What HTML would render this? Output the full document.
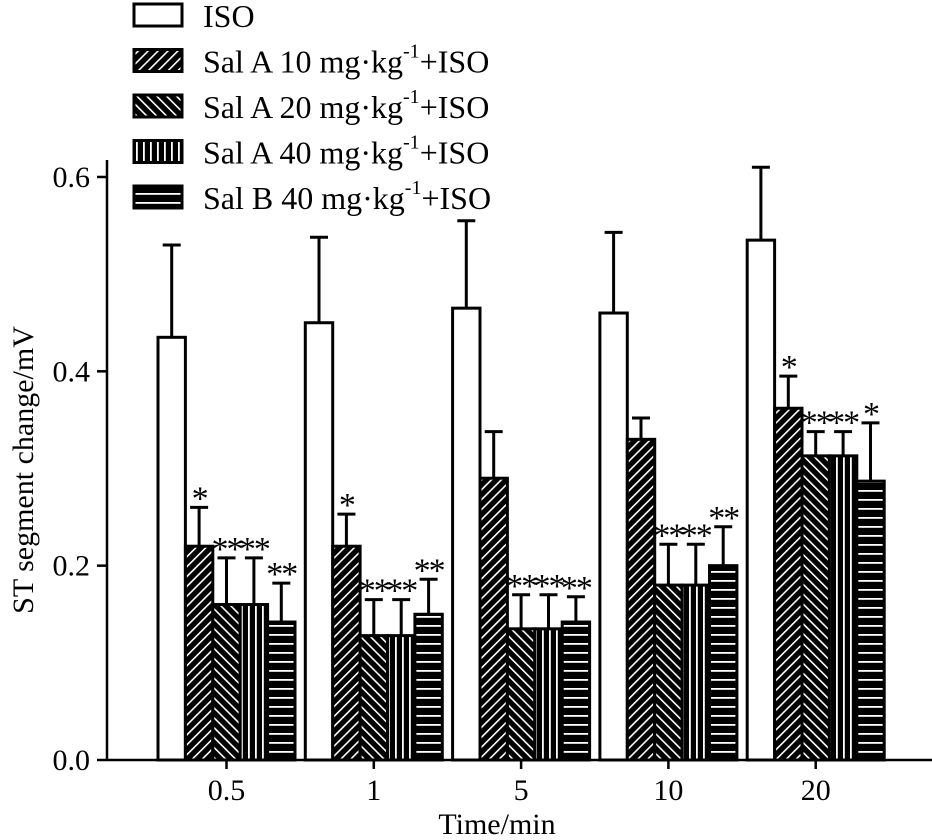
<!DOCTYPE html>
<html><head><meta charset="utf-8"><style>
body{margin:0;background:#fff}
svg text{font-family:"Liberation Serif",serif;fill:#000}
</style></head><body>
<svg id="c" width="932" height="835">
<defs>
<pattern id="p1" width="7" height="7" patternUnits="userSpaceOnUse" patternTransform="rotate(45)"><rect width="7" height="7" fill="#000"/><rect x="0" width="1.6" height="7" fill="#fff"/></pattern>
<pattern id="p2" width="7" height="7" patternUnits="userSpaceOnUse" patternTransform="rotate(-45)"><rect width="7" height="7" fill="#000"/><rect x="0" width="1.6" height="7" fill="#fff"/></pattern>
<pattern id="p3" width="7" height="7" patternUnits="userSpaceOnUse"><rect width="7" height="7" fill="#000"/><rect x="3" width="1.8" height="7" fill="#fff"/></pattern>
<pattern id="p4" width="7" height="9" patternUnits="userSpaceOnUse"><rect width="7" height="9" fill="#000"/><rect y="4" width="7" height="1.8" fill="#fff"/></pattern>
</defs>
</svg>
<script>
const categories=["0.5","1","5","10","20"];
const seriesNames=["ISO","Sal A 10 mg·kg","Sal A 20 mg·kg","Sal A 40 mg·kg","Sal B 40 mg·kg"];
const iso=[0.435,0.45,0.465,0.46,0.535];
const isoErr=[0.53,0.538,0.555,0.543,0.61];
const a10=[0.22,0.22,0.29,0.33,0.362];
const a10Err=[0.26,0.253,0.338,0.352,0.395];
const a20=[0.16,0.128,0.135,0.18,0.313];
const a20Err=[0.208,0.165,0.17,0.222,0.338];
const a40=[0.16,0.128,0.135,0.18,0.313];
const a40Err=[0.208,0.165,0.17,0.222,0.338];
const b40=[0.142,0.15,0.142,0.2,0.287];
const b40Err=[0.182,0.186,0.168,0.24,0.347];
const stars=[["","*","**","**","**"],["","*","**","**","**"],["","","**","**","**"],["","","**","**","**"],["","*","**","**","*"]];
const yTicks=[0,0.2,0.4,0.6];
const yLabels=["0.0","0.2","0.4","0.6"];
const series=[iso,a10,a20,a40,b40],errs=[isoErr,a10Err,a20Err,a40Err,b40Err];
const fills=["#fff","url(#p1)","url(#p2)","url(#p3)","url(#p4)"];
const NS="http://www.w3.org/2000/svg",svg=document.getElementById('c');
const y=v=>760-v*971.7, bw=27.4, gx=i=>158+i*147.3;
function el(t,a,p){const e=document.createElementNS(NS,t);for(const k in a)e.setAttribute(k,a[k]);(p||svg).appendChild(e);return e;}
let ax=el('line',{x1:107,y1:760,x2:932,y2:760,stroke:'#000','stroke-width':2.5});

let ay=el('line',{x1:107,y1:760,x2:107,y2:160,stroke:'#000','stroke-width':2.5});

yTicks.forEach((v,i)=>{
 el('line',{x1:97,x2:107,y1:y(v),y2:y(v),stroke:'#000','stroke-width':2.5});
 const t=el('text',{x:90,y:y(v)+10,'text-anchor':'end','font-size':30});t.textContent=yLabels[i];
 
});
categories.forEach((c,i)=>{
 const cx=gx(i)+2.5*bw;
 el('line',{x1:cx,x2:cx,y1:760,y2:769,stroke:'#000','stroke-width':2.5});
 const t=el('text',{x:cx,y:800,'text-anchor':'middle','font-size':30});t.textContent=c;
 
 series.forEach((s,j)=>{
  const x=gx(i)+j*bw, mx=x+bw/2;
  el('line',{x1:mx,x2:mx,y1:y(s[i]),y2:y(errs[j][i]),stroke:'#000','stroke-width':3});
  el('line',{x1:mx-9,x2:mx+9,y1:y(errs[j][i]),y2:y(errs[j][i]),stroke:'#000','stroke-width':3});
  const r=el('rect',{x:x,y:y(s[i]),width:bw,height:760-y(s[i]),fill:fills[j],stroke:'#000','stroke-width':3});
  
  if(stars[i][j]){const st=el('text',{x:mx,y:y(errs[j][i])+2,'text-anchor':'middle','font-size':34,'font-family':'"Liberation Serif",serif','letter-spacing':'-2'});st.textContent=stars[i][j];
   }
 });
});
let yt=el('text',{x:0,y:0,'text-anchor':'middle','font-size':30,transform:'translate(33,470) rotate(-90)'});yt.textContent='ST segment change/mV';

let xt=el('text',{x:497,y:834,'text-anchor':'middle','font-size':30});xt.textContent='Time/min';

seriesNames.forEach((n,j)=>{
 const cy=15+j*45.5;
 const g=el('g',{});
 el('rect',{x:134,y:cy-11,width:48,height:22,fill:fills[j],stroke:'#000','stroke-width':3},g);
 const t=el('text',{x:203,y:cy+12,'font-size':32},g);
 if(j===0)t.textContent='ISO';
 else{t.textContent=n;const s=el('tspan',{dy:-15,'font-size':20},t);s.textContent='-1';const s2=el('tspan',{dy:15},t);s2.textContent='+ISO';}
});
</script>
</body></html>
